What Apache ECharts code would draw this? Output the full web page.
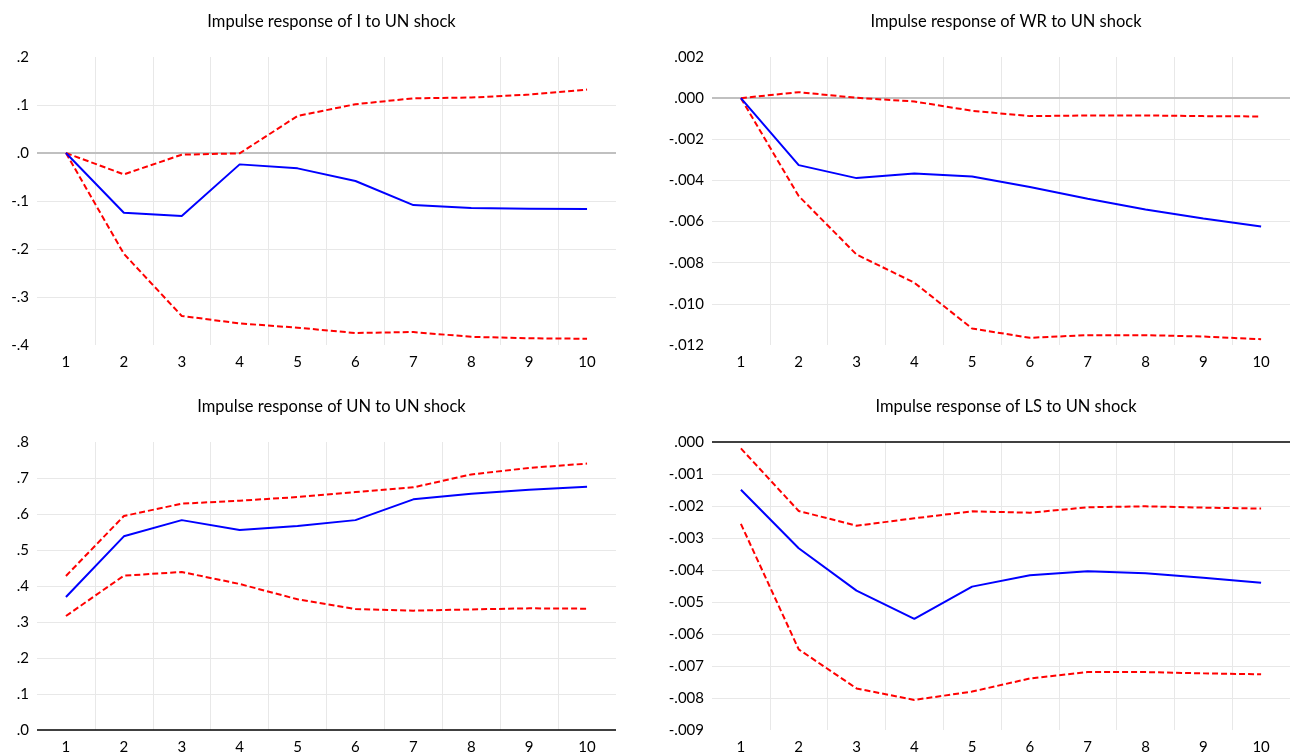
<!DOCTYPE html>
<html>
<head>
<meta charset="utf-8">
<script src="https://cdn.jsdelivr.net/npm/echarts@6/dist/echarts.min.js"></script>
<style>
  html, body { margin: 0; padding: 0; background: #fff; }
  #chart { width: 1302px; height: 756px; }
</style>
</head>
<body>
<div id="chart"></div>
<script>
// Horizon (periods after the shock)
const steps = ['1', '2', '3', '4', '5', '6', '7', '8', '9', '10'];

// Response of I to a UN shock, with its confidence band
const iResp  = [0, -0.1245, -0.1315, -0.0237, -0.0320, -0.0584, -0.1085, -0.1148, -0.1160, -0.1169];
const iUpper = [0, -0.0445, -0.0035, -0.0007, 0.0772, 0.1016, 0.1140, 0.1155, 0.1217, 0.1322];
const iLower = [0, -0.2100, -0.3395, -0.3550, -0.3640, -0.3750, -0.3730, -0.3830, -0.3860, -0.3870];

// Response of WR to a UN shock
const wrResp  = [0, -0.003255, -0.003887, -0.003660, -0.003806, -0.004324, -0.004890, -0.005410, -0.005846, -0.006235];
const wrUpper = [0, 0.000291, 0.000016, -0.000162, -0.000615, -0.000874, -0.000842, -0.000842, -0.000874, -0.000890];
const wrLower = [0, -0.004760, -0.007600, -0.008970, -0.011200, -0.011650, -0.011520, -0.011520, -0.011590, -0.011720];

// Response of UN to its own shock
const unResp  = [0.3694, 0.5380, 0.5830, 0.5556, 0.5667, 0.5830, 0.6407, 0.6565, 0.6676, 0.6760];
const unUpper = [0.4278, 0.5944, 0.6287, 0.6370, 0.6470, 0.6610, 0.6740, 0.7100, 0.7280, 0.7400];
const unLower = [0.3167, 0.4287, 0.4389, 0.4056, 0.3630, 0.3360, 0.3315, 0.3350, 0.3380, 0.3370];

// Response of LS to a UN shock
const lsResp  = [-0.00149, -0.00332, -0.004646, -0.00553, -0.00452, -0.004167, -0.00404, -0.00410, -0.00424, -0.00440];
const lsUpper = [-0.00020, -0.002156, -0.002615, -0.002385, -0.002167, -0.00221, -0.00204, -0.00201, -0.00205, -0.00208];
const lsLower = [-0.00256, -0.00648, -0.00770, -0.00806, -0.00780, -0.00739, -0.00719, -0.00719, -0.00723, -0.00726];

// Value axis ranges: [min, max, interval, decimals]
const iAxis  = [-0.4, 0.2, 0.1, 1];
const wrAxis = [-0.012, 0.002, 0.002, 3];
const unAxis = [0, 0.8, 0.1, 1];
const lsAxis = [-0.009, 0, 0.001, 3];

const titles = [
  'Impulse response of I to UN shock',
  'Impulse response of WR to UN shock',
  'Impulse response of UN to UN shock',
  'Impulse response of LS to UN shock'
];

const FONT = 'Lato, "Noto Sans", sans-serif';

// Panel frames
const frames = [
  { left: 37,  top: 57,  width: 579, height: 288 },
  { left: 712, top: 57,  width: 578, height: 288 },
  { left: 37,  top: 442, width: 579, height: 288 },
  { left: 712, top: 442, width: 578, height: 288 }
];

const panels = [
  { resp: iResp,  up: iUpper,  lo: iLower,  axis: iAxis,  zero: { color: '#c0c0c0', width: 2 } },
  { resp: wrResp, up: wrUpper, lo: wrLower, axis: wrAxis, zero: { color: '#c0c0c0', width: 2 } },
  { resp: unResp, up: unUpper, lo: unLower, axis: unAxis, zero: { color: '#000000', width: 1.5 } },
  { resp: lsResp, up: lsUpper, lo: lsLower, axis: lsAxis, zero: { color: '#000000', width: 1.5 } }
];

// Tick text without the leading zero, e.g. ".2", "-.004"
function tickText(decimals) {
  return function (v) {
    if (Math.abs(v) < 1e-12) v = 0;
    let s = v.toFixed(decimals);
    return s.replace(/^(-?)0\./, '$1.');
  };
}

const option = {
  backgroundColor: '#ffffff',
  animation: false,
  title: [],
  grid: [],
  xAxis: [],
  yAxis: [],
  series: []
};

panels.forEach(function (p, k) {
  const f = frames[k];
  option.title.push({
    text: titles[k],
    left: f.left + f.width / 2,
    top: k < 2 ? 8 : 393,
    textAlign: 'center',
    textStyle: { fontFamily: FONT, fontSize: 16.5, fontWeight: 'normal', color: '#000' }
  });
  option.grid.push({ left: f.left, top: f.top, width: f.width, height: f.height, containLabel: false });
  option.xAxis.push({
    type: 'category',
    gridIndex: k,
    data: steps,
    boundaryGap: true,
    axisLine: { show: false },
    axisTick: { show: false },
    axisLabel: { fontFamily: FONT, fontSize: 15, color: '#000', margin: 10 },
    splitLine: { show: true, showMinLine: false, showMaxLine: false, lineStyle: { color: '#e8e8e8', width: 1 } }
  });
  option.yAxis.push({
    type: 'value',
    gridIndex: k,
    min: p.axis[0],
    max: p.axis[1],
    interval: p.axis[2],
    axisLine: { show: false },
    axisTick: { show: false },
    axisLabel: { fontFamily: FONT, fontSize: 15, color: '#000', margin: 8, formatter: tickText(p.axis[3]) },
    splitLine: { show: true, showMinLine: false, showMaxLine: false, lineStyle: { color: '#e8e8e8', width: 1 } }
  });
  const base = { type: 'line', xAxisIndex: k, yAxisIndex: k, symbol: 'none', silent: true, z: 3 };
  option.series.push(Object.assign({}, base, {
    name: 'response',
    data: p.resp,
    lineStyle: { color: '#0000ff', width: 2 },
    z: 4,
    markLine: {
      silent: true,
      symbol: 'none',
      label: { show: false },
      lineStyle: { type: 'solid', color: p.zero.color, width: p.zero.width },
      data: [{ yAxis: 0 }],
      z: 2
    }
  }));
  option.series.push(Object.assign({}, base, {
    name: 'upper',
    data: p.up,
    lineStyle: { color: '#ff0000', width: 2, type: [6, 3] }
  }));
  option.series.push(Object.assign({}, base, {
    name: 'lower',
    data: p.lo,
    lineStyle: { color: '#ff0000', width: 2, type: [6, 3] }
  }));
});

const chart = echarts.init(document.getElementById('chart'), null, { renderer: 'canvas' });
chart.setOption(option);
</script>
</body>
</html>
